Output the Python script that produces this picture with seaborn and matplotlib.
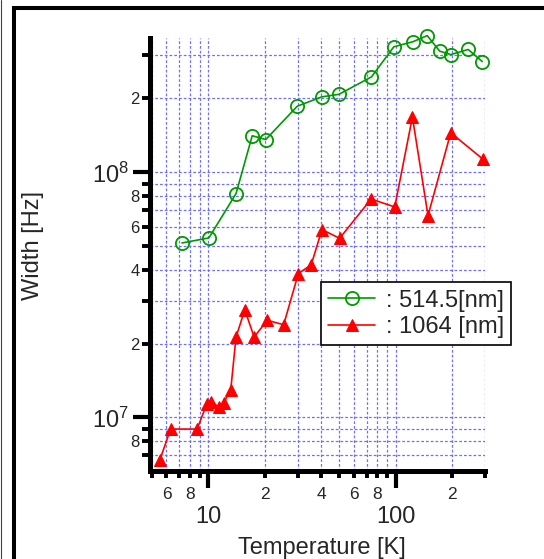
import numpy as np
import pandas as pd
import matplotlib
matplotlib.use("Agg")
import matplotlib.pyplot as plt
import matplotlib.ticker as mticker
from matplotlib.patches import Rectangle
from matplotlib.lines import Line2D
import seaborn as sns

# temperature [K] and linewidth [Hz]
green_T = [7.26, 10.1, 14.1, 17.2, 20.3, 29.9, 40.3, 49.9, 74.4, 97.9,
           124, 147.5, 172, 197, 244, 290]
green_W = [5.15e7, 5.40e7, 8.19e7, 1.41e8, 1.36e8, 1.86e8, 2.03e8, 2.08e8,
           2.45e8, 3.25e8, 3.41e8, 3.61e8, 3.12e8, 3.02e8, 3.17e8, 2.83e8]

red_T = [5.53, 6.31, 8.74, 9.82, 10.35, 11.5, 12.1, 13.2, 14.1, 15.7, 17.6,
         20.7, 25.3, 30.3, 35.5, 40.5, 50.3, 74.1, 99, 123, 149, 197, 293]
red_W = [6.71e6, 8.97e6, 8.97e6, 1.13e7, 1.16e7, 1.10e7, 1.15e7, 1.29e7,
         2.13e7, 2.75e7, 2.13e7, 2.49e7, 2.39e7, 3.86e7, 4.2e7, 5.84e7,
         5.38e7, 7.78e7, 7.22e7, 1.68e8, 6.66e7, 1.45e8, 1.13e8]

labels = [": 514.5[nm]", ": 1064 [nm]"]

sns.set_style("ticks")
plt.rcParams["font.family"] = ["Liberation Sans", "DejaVu Sans"]
plt.rcParams["mathtext.fontset"] = "custom"
plt.rcParams["mathtext.rm"] = "Liberation Sans"
plt.rcParams["mathtext.default"] = "regular"

green_df = pd.DataFrame({"T": green_T, "W": green_W})
red_df = pd.DataFrame({"T": red_T, "W": red_W})

fig = plt.figure(figsize=(5.44, 5.59), dpi=100)
ax = fig.add_axes([150 / 544, 88 / 559, 335 / 544, 433 / 559])

sns.lineplot(data=green_df, x="T", y="W", ax=ax, estimator=None, sort=False,
             color="#009900", lw=1.2, marker="o", markersize=9.5,
             markerfacecolor="none", markeredgecolor="#009900",
             markeredgewidth=1.3, clip_on=False)
sns.lineplot(data=red_df, x="T", y="W", ax=ax, estimator=None, sort=False,
             color="#ff0000", lw=1.2, marker="^", markersize=8.5,
             markerfacecolor="#ff0000", markeredgecolor="#ff0000",
             clip_on=False)

ax.set_xscale("log")
ax.set_yscale("log")
ax.set_xlim(4.9, 300)
ax.set_ylim(6.05e6, 3.53e8)


def minor_fmt(v, pos):
    lead = int(round(v / 10 ** np.floor(np.log10(v) + 1e-9)))
    return str(lead) if lead in (2, 4, 6, 8) else ""


for axis in (ax.xaxis, ax.yaxis):
    axis.set_major_locator(mticker.LogLocator(base=10, numticks=20))
    axis.set_minor_locator(mticker.LogLocator(base=10, subs=np.arange(2, 10), numticks=20))
    axis.set_minor_formatter(mticker.FuncFormatter(minor_fmt))

ax.xaxis.set_major_formatter(mticker.FuncFormatter(lambda v, p: f"{v:g}"))
ax.yaxis.set_major_formatter(mticker.FuncFormatter(
    lambda v, p: r"$\mathregular{10^{%d}}$" % int(round(np.log10(v)))))

ax.grid(which="both", color="#7070ff", linestyle=(0, (2.2, 1.6)), lw=0.9)
ax.set_axisbelow(True)

for s in ("top", "right"):
    ax.spines[s].set_visible(False)
for s in ("left", "bottom"):
    ax.spines[s].set_linewidth(3.6)
    ax.spines[s].set_color("black")

ax.tick_params(axis="x", which="major", direction="out", length=12, width=3,
               pad=13, labelsize=17, color="black")
ax.tick_params(axis="x", which="minor", direction="out", length=5.3, width=2.8,
               pad=6.5, labelsize=12.5, color="black")
ax.tick_params(axis="y", which="major", direction="out", length=12, width=3,
               pad=3, labelsize=17, color="black")
ax.tick_params(axis="y", which="minor", direction="out", length=5.8, width=2.8,
               pad=1.5, labelsize=12, color="black")

ax.set_xlabel("")
ax.set_ylabel("")
fig.text(322 / 544, 1 - 554 / 559, "Temperature [K]", fontsize=17,
         ha="center", va="baseline")
fig.text(33 / 544, 1 - 245 / 559, "Width [Hz]", fontsize=17, rotation=90,
         ha="center", va="center")

handles = ax.get_lines()[:2]
leg = ax.legend(handles, labels, loc="upper left", bbox_to_anchor=(0.51, 0.4355),
                frameon=True, fancybox=False, framealpha=1, edgecolor="black",
                fontsize=17, borderpad=0.3, handlelength=2.0, handletextpad=0.45,
                labelspacing=0.2, borderaxespad=0)
leg.get_frame().set_linewidth(1.2)

# outer frame of the original figure
fig.add_artist(Rectangle((13.5 / 544, -0.05), 1.0, (559 - 8) / 559 + 0.05,
                         transform=fig.transFigure, fill=False, lw=2.9,
                         edgecolor="black", clip_on=False))
fig.add_artist(Line2D([0.5 / 544, 0.5 / 544], [0, 1], transform=fig.transFigure,
                      color="#444444", lw=0.8))

fig.savefig("out.png", dpi=100)
